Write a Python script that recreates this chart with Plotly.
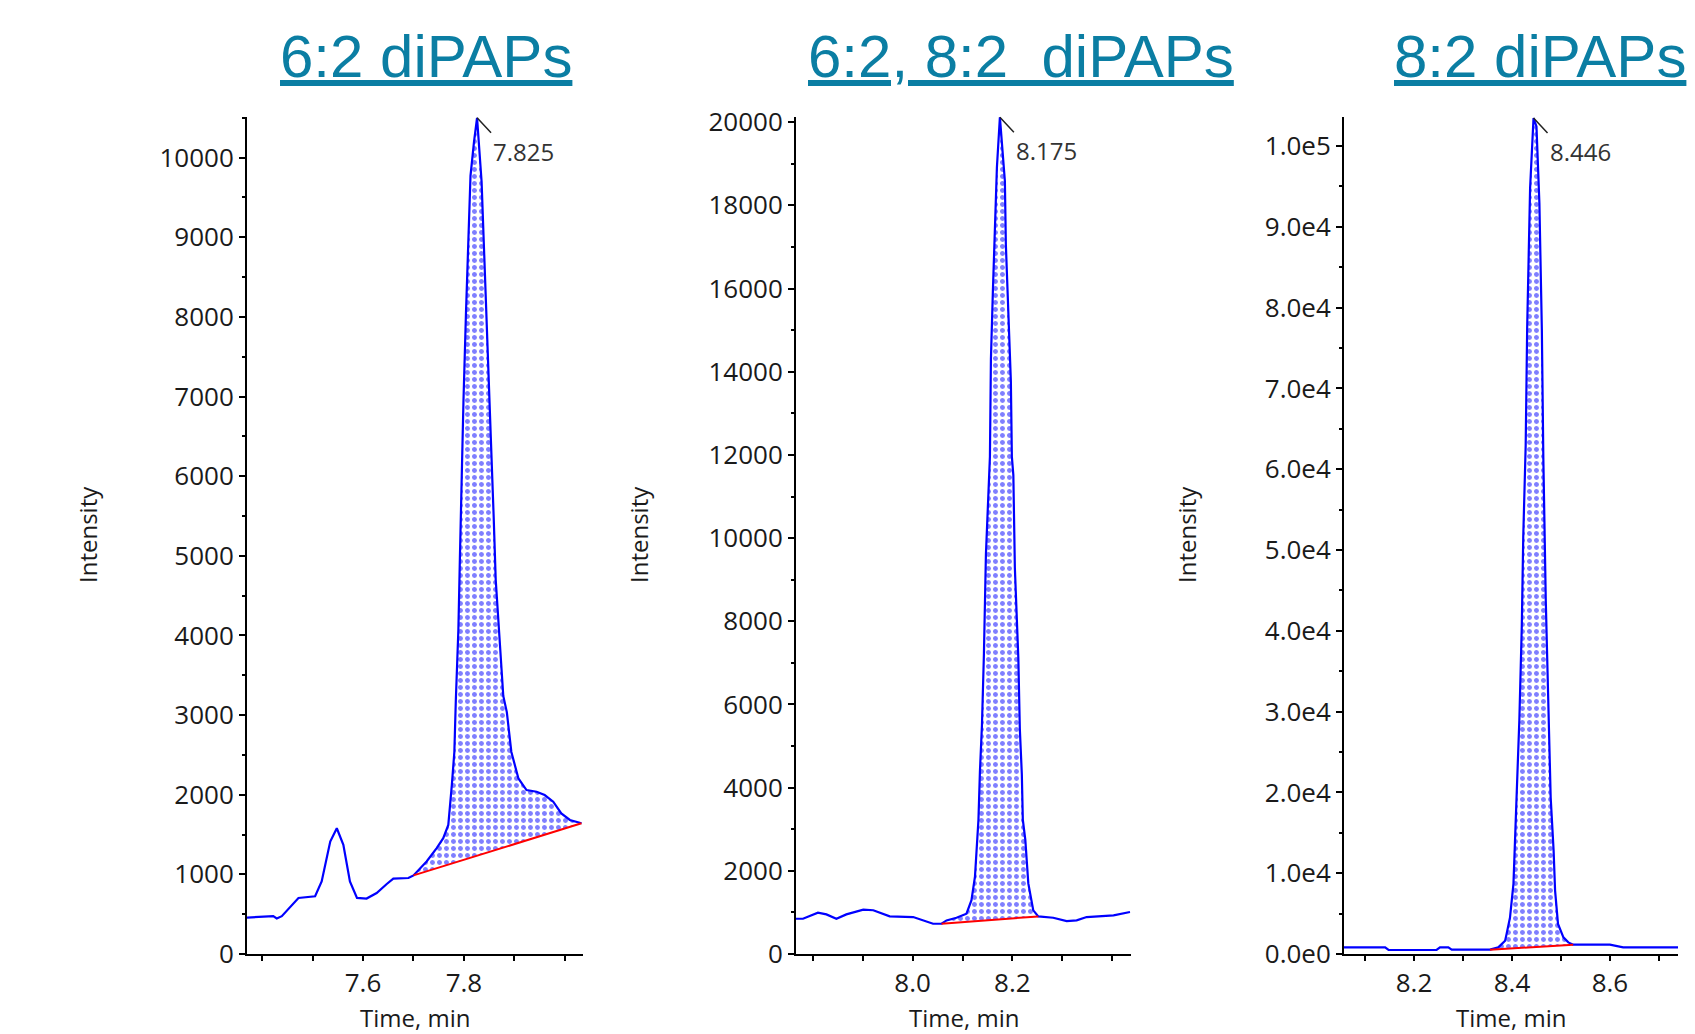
import numpy as np
import plotly.graph_objects as go

# ---------------- data ----------------
titles = ["6:2 diPAPs", "6:2, 8:2\u00a0 diPAPs", "8:2 diPAPs"]
peak_labels = ["7.825", "8.175", "8.446"]

t1 = [7.370, 7.422, 7.429, 7.439, 7.472, 7.505, 7.518, 7.535, 7.548, 7.561, 7.574, 7.588,
      7.607, 7.627, 7.647, 7.660, 7.690, 7.700, 7.726, 7.746, 7.759, 7.769, 7.776, 7.781,
      7.784, 7.789, 7.792, 7.795, 7.799, 7.804, 7.809, 7.813, 7.820, 7.826, 7.835, 7.840,
      7.845, 7.850, 7.855, 7.859, 7.863, 7.870, 7.878, 7.885, 7.894, 7.908, 7.924, 7.944,
      7.960, 7.977, 7.993, 8.010, 8.033]
i1 = [458, 475, 446, 475, 704, 725, 912, 1412, 1579, 1371, 912, 704,
      696, 766, 879, 946, 954, 987, 1162, 1329, 1454, 1621, 2121, 2537,
      3200, 4077, 4975, 5862, 6925, 8040, 9156, 9770, 10200, 10500, 9700, 8850,
      7950, 7050, 6260, 5480, 4700, 3966, 3240, 3037, 2537, 2204, 2058, 2037,
      1996, 1912, 1766, 1683, 1641]

t2 = [7.766, 7.780, 7.810, 7.827, 7.847, 7.867, 7.901, 7.921, 7.954, 8.001, 8.041, 8.058,
      8.068, 8.088, 8.108, 8.118, 8.125, 8.132, 8.135, 8.139, 8.143, 8.147, 8.155, 8.157,
      8.161, 8.165, 8.169, 8.175, 8.185, 8.187, 8.192, 8.197, 8.199, 8.202, 8.205, 8.212,
      8.215, 8.219, 8.221, 8.226, 8.232, 8.242, 8.252, 8.282, 8.309, 8.329, 8.349, 8.403,
      8.436]
i2 = [848, 848, 994, 952, 848, 952, 1067, 1052, 904, 888, 727, 727,
      808, 872, 970, 1293, 1858, 3232, 4403, 5494, 7232, 9615, 11958, 14303,
      15958, 17455, 18909, 20120, 18585, 17050, 15555, 13777, 11958, 11515, 9292, 7111,
      5413, 4322, 3232, 2747, 1697, 1050, 904, 872, 790, 808, 888, 929,
      1009]

t3 = [8.057, 8.141, 8.148, 8.246, 8.253, 8.270, 8.277, 8.355, 8.372, 8.386, 8.389, 8.396,
      8.403, 8.407, 8.410, 8.415, 8.420, 8.423, 8.428, 8.431, 8.437, 8.444, 8.450, 8.456,
      8.461, 8.464, 8.469, 8.474, 8.479, 8.485, 8.488, 8.494, 8.505, 8.515, 8.525, 8.600,
      8.627, 8.739]
i3 = [818, 818, 496, 496, 818, 818, 537, 537, 818, 1648, 2478, 4535,
      8674, 15500, 22305, 28910, 40471, 51623, 62986, 77447, 94796, 103470, 102430, 92937,
      77240, 61500, 43780, 30360, 19405, 12800, 7844, 3717, 2057, 1437, 1152, 1152,
      818, 818]

peak_windows = [(7.700, 8.033), (8.058, 8.252), (8.355, 8.525)]

x_ticks = [[7.4, 7.5, 7.6, 7.7, 7.8, 7.9, 8.0],
           [7.8, 7.9, 8.0, 8.1, 8.2, 8.3, 8.4],
           [8.1, 8.2, 8.3, 8.4, 8.5, 8.6, 8.7]]
x_ticklabels = [["", "", "7.6", "", "7.8", "", ""],
                ["", "", "8.0", "", "8.2", "", ""],
                ["", "8.2", "", "8.4", "", "8.6", ""]]
y_ticks = [[0, 1000, 2000, 3000, 4000, 5000, 6000, 7000, 8000, 9000, 10000],
           [0, 2000, 4000, 6000, 8000, 10000, 12000, 14000, 16000, 18000, 20000],
           [0, 10000, 20000, 30000, 40000, 50000, 60000, 70000, 80000, 90000, 100000]]
y_ticklabels = [[str(v) for v in y_ticks[0]],
                [str(v) for v in y_ticks[1]],
                ["0.0e0", "1.0e4", "2.0e4", "3.0e4", "4.0e4", "5.0e4", "6.0e4",
                 "7.0e4", "8.0e4", "9.0e4", "1.0e5"]]
y_minor = [500, 1000, 5000]

# ---------------- layout constants ----------------
W, H = 1695, 1034
M_T, M_B = 117, 80
x_domains_px = [(247, 583), (796, 1131), (1344, 1678)]
x_ranges = [(7.370, 8.036), (7.766, 8.438), (8.057, 8.739)]
y_tops = [10510, 20125, 103600]
ylabel_x_px = [87, 638, 1186]
title_x_px = [426, 1021, 1540]

BLUE = "#0000ff"
RED = "#ff0000"
TICK_FONT = dict(family="Open Sans, sans-serif", size=26, color="#1a1a1a")
TITLE_FONT = dict(family="Liberation Sans, Arial, sans-serif", size=60, color="#0b7ea3")
LABEL_FONT = dict(family="Open Sans, sans-serif", size=24, color="#1a1a1a")

series = [(t1, i1), (t2, i2), (t3, i3)]

fig = go.Figure()
ph = H - M_T - M_B


def py(px):
    return 1 + (M_T - px) / ph


for k, (t, inten) in enumerate(series):
    xa = "x" if k == 0 else f"x{k+1}"
    ya = "y" if k == 0 else f"y{k+1}"
    t_arr = np.array(t)
    i_arr = np.array(inten, dtype=float)
    s, e = peak_windows[k]
    bx = [s, e]
    by = [float(np.interp(s, t_arr, i_arr)), float(np.interp(e, t_arr, i_arr))]
    mask = (t_arr >= s) & (t_arr <= e)
    # invisible baseline for filling
    fig.add_trace(go.Scatter(x=bx, y=by, mode="lines", line=dict(width=0),
                             xaxis=xa, yaxis=ya, hoverinfo="skip"))
    fig.add_trace(go.Scatter(x=t_arr[mask], y=i_arr[mask], mode="lines",
                             line=dict(width=0), fill="tonexty",
                             fillcolor="rgba(255,255,255,0)",
                             fillpattern=dict(shape=".", fgcolor=BLUE, bgcolor="white",
                                              size=7, solidity=0.4),
                             xaxis=xa, yaxis=ya, hoverinfo="skip"))
    fig.add_trace(go.Scatter(x=t_arr, y=i_arr, mode="lines",
                             line=dict(color=BLUE, width=2.2),
                             xaxis=xa, yaxis=ya))
    fig.add_trace(go.Scatter(x=bx, y=by, mode="lines",
                             line=dict(color=RED, width=2),
                             xaxis=xa, yaxis=ya))

    d0, d1 = x_domains_px[k]
    axis_common = dict(showline=True, linecolor="black", linewidth=2,
                       ticks="outside", tickcolor="black", tickwidth=2,
                       showgrid=False, zeroline=False, tickfont=TICK_FONT)
    xkey = "xaxis" if k == 0 else f"xaxis{k+1}"
    ykey = "yaxis" if k == 0 else f"yaxis{k+1}"
    fig.update_layout(**{
        xkey: dict(domain=[d0 / W, d1 / W], range=list(x_ranges[k]), anchor=ya,
                   tickmode="array", tickvals=x_ticks[k], ticktext=x_ticklabels[k],
                   ticklen=5, **axis_common),
        ykey: dict(domain=[0, 1], range=[0, y_tops[k]], anchor=xa,
                   tickmode="array", tickvals=y_ticks[k], ticktext=y_ticklabels[k],
                   ticklen=6,
                   minor=dict(tick0=0, dtick=y_minor[k], ticks="outside", ticklen=3,
                              tickcolor="black", tickwidth=2),
                   **axis_common),
    })

    # peak label
    ip = int(np.argmax(i_arr))
    fig.add_annotation(x=t_arr[ip], y=i_arr[ip], xref=xa, yref=ya,
                       text=peak_labels[k], showarrow=True, arrowhead=0,
                       arrowwidth=1.5, arrowcolor="#222222", ax=14, ay=15,
                       xanchor="left", yanchor="top", standoff=0,
                       font=dict(family="Open Sans, sans-serif", size=24, color="#333333"))

    # panel title
    fig.add_annotation(x=title_x_px[k] / W, y=py(57), xref="paper", yref="paper",
                       text="<u>" + titles[k] + "</u>", showarrow=False,
                       xanchor="center", yanchor="middle", font=TITLE_FONT)
    # y axis title
    fig.add_annotation(x=ylabel_x_px[k] / W, y=py(535), xref="paper", yref="paper",
                       text="Intensity", showarrow=False, textangle=-90,
                       xanchor="center", yanchor="middle", font=LABEL_FONT)
    # x axis title
    fig.add_annotation(x=(d0 + d1) / 2 / W, y=py(1017), xref="paper", yref="paper",
                       text="Time, min", showarrow=False,
                       xanchor="center", yanchor="middle", font=LABEL_FONT)

fig.update_layout(width=W, height=H, margin=dict(l=0, r=0, t=M_T, b=M_B),
                  plot_bgcolor="white", paper_bgcolor="white", showlegend=False)

fig.write_html("out.html", config={"displayModeBar": False},
               post_script="document.body.style.margin='0';document.body.style.overflow='hidden';")
